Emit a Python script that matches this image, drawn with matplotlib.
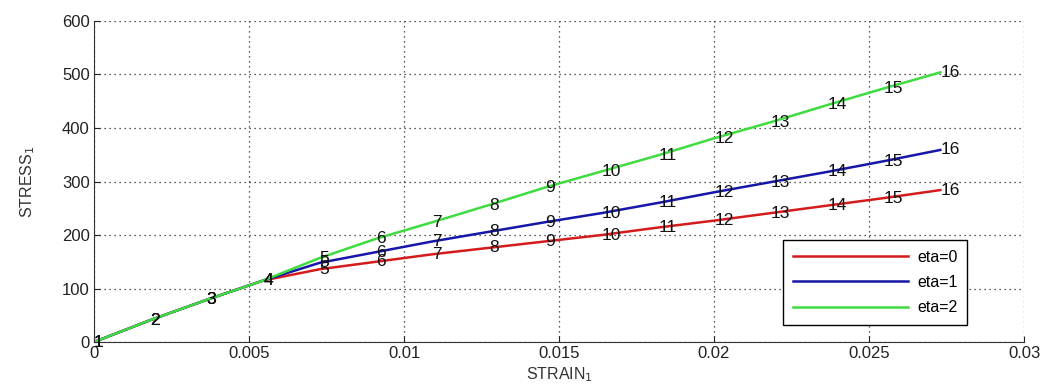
import matplotlib.pyplot as plt
import numpy as np

# strain at each of the 16 points (equal steps of roughly 0.00182)
strain = [0.0, 0.00182, 0.00364, 0.00546, 0.00728, 0.0091, 0.01092, 0.01274,
          0.01456, 0.01638, 0.0182, 0.02002, 0.02184, 0.02366, 0.02548, 0.0273]

stress_eta0 = [0, 41, 79, 115, 136, 150, 164, 176, 188, 200, 214, 227, 241, 255, 269, 284]
stress_eta1 = [0, 41, 79, 115, 148, 168, 188, 206, 224, 241, 260, 280, 299, 318, 338, 359]
stress_eta2 = [0, 41, 79, 115, 157, 193, 224, 256, 289, 319, 349, 381, 411, 443, 474, 504]

series = [("eta=0", stress_eta0, "#d41c1c"),
          ("eta=1", stress_eta1, "#1616a8"),
          ("eta=2", stress_eta2, "#3fdc3f")]

point_labels = [str(i + 1) for i in range(len(strain))]

plt.rcParams['font.family'] = ['Liberation Sans Narrow', 'Liberation Sans', 'DejaVu Sans']

fig = plt.figure(figsize=(10.48, 3.91), dpi=100)
ax = fig.add_axes([0.0897, 0.1253, 0.8874, 0.8210])

for name, stress, col in series:
    ax.plot(strain, stress, color=col, lw=1.8, label=name)
    for x, y, t in zip(strain, stress, point_labels):
        ax.text(x, y, t, ha='left', va='center', fontsize=12.5, color='#111111')

ax.set_xlim(0, 0.03)
ax.set_ylim(0, 600)
ax.set_xticks(np.arange(0, 0.0301, 0.005))
ax.set_xticklabels(['0', '0.005', '0.01', '0.015', '0.02', '0.025', '0.03'])
ax.set_yticks(np.arange(0, 601, 100))

ax.grid(True, linestyle=(0, (1, 3)), color='#222222', lw=0.9)
for s in ['top', 'right']:
    ax.spines[s].set_visible(False)
for s in ['left', 'bottom']:
    ax.spines[s].set_color('#333333')
ax.tick_params(direction='in', length=4, labelsize=12, colors='#222222', pad=3)

ax.set_xlabel('STRAIN$_1$', fontsize=11.5, color='#333333', labelpad=3)
ax.set_ylabel('STRESS$_1$', fontsize=11.5, color='#333333', labelpad=18)

leg = ax.legend(loc='lower right', bbox_to_anchor=(0.939, 0.053), fontsize=11.5,
                frameon=True, fancybox=False, edgecolor='black', framealpha=1,
                handlelength=7.2, handletextpad=0.6, borderpad=0.6,
                labelspacing=0.65, borderaxespad=0)
leg.get_frame().set_linewidth(1.0)

fig.savefig('out.png', dpi=100)
